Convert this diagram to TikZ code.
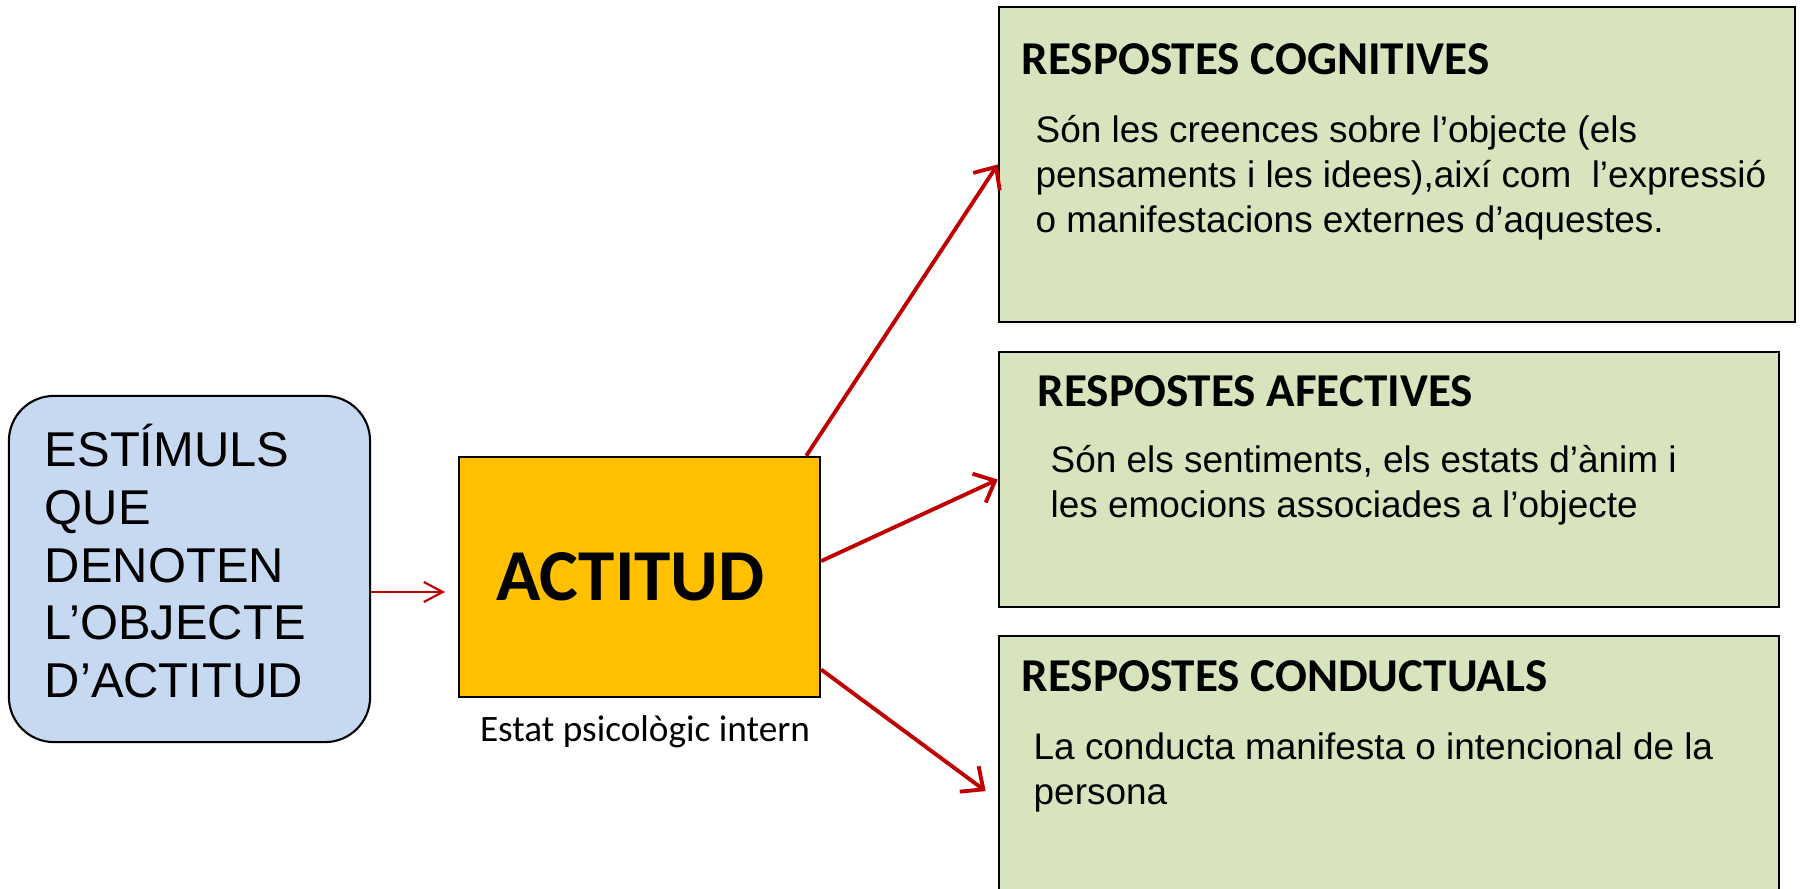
\documentclass[tikz,border=0pt]{standalone}
\usepackage{fontspec}
\setmainfont{Liberation Sans}
\newfontfamily\calibri{Carlito}
\usetikzlibrary{arrows.meta}

\definecolor{stimblue}{HTML}{C6D9F1}
\definecolor{actyellow}{HTML}{FFC000}
\definecolor{respgreen}{HTML}{D7E4BD}
\definecolor{arrowred}{HTML}{C00000}

\tikzset{
    stimbox/.style={draw=black, line width=0.6pt, fill=stimblue, rounded corners=0.45cm,
        minimum width=3.61cm, minimum height=3.46cm, text width=2.89cm, inner sep=0pt,
        align=left, font=\fontsize{13.9}{16.4}\selectfont},
    actbox/.style={draw=black, line width=0.6pt, fill=actyellow, inner sep=0pt,
        minimum width=3.61cm, minimum height=2.40cm, font=\calibri\bfseries\fontsize{20.8}{24}\selectfont},
    respbox/.style={draw=black, line width=0.6pt, fill=respgreen, inner sep=0pt},
    resptitle/.style={anchor=base west, inner sep=0pt, font=\calibri\bfseries\fontsize{13.4}{15}\selectfont},
    respbody/.style={anchor=north west, inner sep=0pt, align=left, font=\fontsize{10.5}{12.8}\selectfont},
    redarrow/.style={draw=arrowred, line width=1.1pt, -{Straight Barb[length=5pt,width=9pt]}},
    thinarrow/.style={draw=arrowred, line width=0.6pt, -{Straight Barb[length=5.4pt,width=5.7pt]}}
}

\begin{document}
\begin{tikzpicture}[x=0.01cm, y=-0.01cm]
    \useasboundingbox (0,0) rectangle (1800,889);
    \node[stimbox](1) at (189.5, 569) {ESTÍMULS\\QUE\\DENOTEN\\L’OBJECTE\\D’ACTITUD\rule[-0.16cm]{0pt}{0pt}};
    \node[actbox](2) at (639.5, 577) {ACTITUD\rule{0.18cm}{0pt}};
    \node[anchor=base, inner sep=0pt, font=\calibri\fontsize{10.6}{12}\selectfont](6) at (645, 742) {Estat psicològic intern};
    \coordinate(a) at (445, 592);
    \path (1.east |- a) edge[thinarrow] (a);
    \node[respbox, minimum width=7.96cm, minimum height=3.15cm](3) at (1397, 164.5) {};
    \node[respbox, minimum width=7.80cm, minimum height=2.55cm](4) at (1389, 479.5) {};
    \node[respbox, minimum width=7.80cm, minimum height=3.28cm](5) at (1389, 800) {};
    \path (2.36) edge[redarrow] (3.west) (2.5) edge[redarrow] (4.west);
    \path (2.-27) edge[redarrow, shorten >=0.15cm] (5.west);
    \node[resptitle](7) at (1021, 75) {RESPOSTES COGNITIVES};
    \node[respbody](8) at (1035, 115) {Són les creences sobre l’objecte (els\\pensaments i les idees),així com\ \ l’expressió\\o manifestacions externes d’aquestes.};
    \node[resptitle](9) at (1037, 407) {RESPOSTES AFECTIVES};
    \node[respbody](10) at (1050, 445) {Són els sentiments, els estats d’ànim i\\les emocions associades a l’objecte};
    \node[resptitle](11) at (1021, 692) {RESPOSTES CONDUCTUALS};
    \node[respbody](12) at (1033, 732) {La conducta manifesta o intencional de la\\persona};
\end{tikzpicture}
\end{document}
